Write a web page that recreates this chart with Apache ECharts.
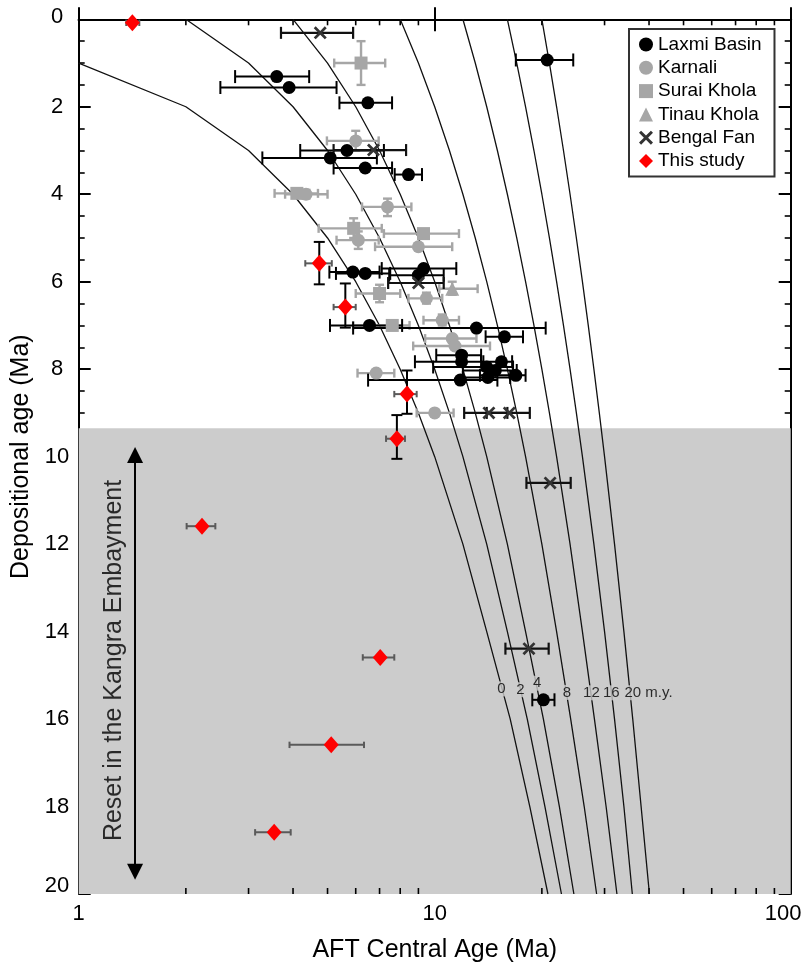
<!DOCTYPE html>
<html><head><meta charset="utf-8">
<script src="https://cdn.jsdelivr.net/npm/echarts@6/dist/echarts.min.js"></script>
<style>html,body{margin:0;padding:0;background:#fff}#c{width:806px;height:975px}</style>
</head><body><div id="c"></div>
<script>
// ---- DATA: [AFT central age, depositional age, AFT min, AFT max, dep min, dep max] ----
const laxmiBasin = [
  [20.7,0.93,16.9,24.5],[3.60,1.31,2.75,4.44],[3.90,1.56,2.50,5.30],[6.49,1.91,5.40,7.59],
  [5.67,3.00,4.19,7.20],[5.09,3.17,3.28,6.88],[6.38,3.40,5.20,7.59],[8.44,3.55,7.72,9.21],
  [5.89,5.78,5.06,7.00],[6.38,5.81,5.28,7.50],[9.31,5.70,7.10,11.5],[9.00,5.85,7.45,10.6],
  [6.56,7.00,5.08,8.10],[13.1,7.06,5.90,20.5],[15.7,7.26,13.9,17.7],[11.9,7.68,10.1,13.5],
  [11.9,7.83,8.80,13.7],[15.4,7.83,13.5,16.5],[14.0,7.95,9.90,16.6],[14.8,8.03,12.0,17.0],
  [16.9,8.14,13.4,18.0],[14.1,8.19,12.0,16.3],[11.8,8.25,6.50,15.0],[20.2,15.56,18.8,21.7]
];
const karnali = [
  [6.00,2.78,4.98,6.96,2.55,3.00],[4.35,4.00,3.80,5.00,3.90,4.10],[7.37,4.29,6.25,8.60,4.10,4.50],
  [6.10,5.05,5.30,6.96,4.85,5.25],[9.00,5.20,6.80,11.2,null,null],[9.48,6.38,8.44,10.5,6.25,6.50],
  [10.5,6.88,9.30,11.7,6.75,7.00],[11.2,7.30,9.40,13.1,null,null],[11.4,7.47,8.70,14.3,null,null],
  [6.85,8.09,6.07,7.70,null,null],[10.0,9.00,8.90,11.3,null,null]
];
const suraiKhola = [
  [6.21,1.00,5.22,7.26,0.50,1.50],[4.10,3.98,3.55,4.70,3.88,4.08],[5.92,4.78,4.72,7.10,4.55,5.00],
  [9.30,4.90,7.20,11.7,4.80,5.00],[7.00,6.27,6.00,8.00,6.07,6.47],[7.60,7.00,5.90,8.50,null,null]
];
const tinauKhola = [
  [11.2,6.16,10.3,13.2,6.00,6.30]
];
const bengalFan = [
  [4.77,0.31,3.70,5.90],[6.73,2.99,5.20,8.31],[9.00,6.03,7.40,10.6],[14.2,9.00,12.1,16.0],
  [16.2,9.00,14.0,18.5],[21.1,10.6,18.1,24.1],[18.4,14.39,15.8,20.9]
];
const thisStudy = [
  [1.415,0.08,1.36,1.48,null,null],[4.74,5.58,4.33,5.14,5.09,6.06],[5.61,6.58,5.20,6.00,6.04,7.05],
  [8.36,8.57,7.70,8.90,8.03,9.02],[7.83,9.59,7.30,8.25,9.05,10.05],[2.22,11.59,2.01,2.42,null,null],
  [7.03,14.59,6.28,7.70,null,null],[5.12,16.59,3.91,6.33,null,null],[3.54,18.59,3.13,3.94,null,null]
];
// lag-time curves: AFT age (x) read at each depositional age (y)
const curveDep = [0,1,2,3,4,5,6,7,8,9,10,12,14,16,18,20];
const lagCurves = {
  '0':  [null,1,2,3,4,5,6,7,8,9,10,12,14,16.3,18.5,20.8],
  '2':  [2,3,4,5,6,7,8,9,10,11,12,14,16,18.2,20.4,22.7],
  '4':  [4,5,6,7,8,9,10,11,12,13,14,16,18,20.2,22.4,24.6],
  '8':  [8,9,10,11,12,13,14,15,16,17,18,20,22,24.1,26.3,28.5],
  '12': [12,13,14,15,16,17,18,19,20,21,22,24,26,28.1,30.3,32.5],
  '16': [16,17,18,19,20,21,22,23,24,25,26,28,30,32,34,35.9],
  '20': [20,21,22,23,24,25,26,27,28,29,30,32,34,36,38,40.1]
};
const lagLabelText = ['0','2','4','8','12','16','20 m.y.'];
const resetZone = [9.35, 20];
const xTickMinor = [2,3,4,5,6,7,8,9,20,30,40,50,60,70,80,90];

// ---- helpers ----
const XPATH = 'path://M0,1.5L1.5,0L5,3.5L8.5,0L10,1.5L6.5,5L10,8.5L8.5,10L5,6.5L1.5,10L0,8.5L3.5,5Z';
function errSeries(name, data, o) {
  return {
    type: 'custom', name: name + ' err', silent: true, z: 3,
    data: data.map(d => [d[0], d[1], d[2], d[3], d[4] == null ? NaN : d[4], d[5] == null ? NaN : d[5]]),
    encode: {x: 0, y: 1},
    renderItem(params, api) {
      const x = api.value(0), y = api.value(1), lo = api.value(2), hi = api.value(3);
      const ylo = api.value(4), yhi = api.value(5);
      const ch = [];
      const a = api.coord([lo, y]), b = api.coord([hi, y]);
      const hs = {stroke: o.hColor, lineWidth: o.width};
      ch.push({type: 'line', shape: {x1: a[0], y1: a[1], x2: b[0], y2: b[1]}, style: hs});
      ch.push({type: 'line', shape: {x1: a[0], y1: a[1] - o.hCap, x2: a[0], y2: a[1] + o.hCap}, style: hs});
      ch.push({type: 'line', shape: {x1: b[0], y1: b[1] - o.hCap, x2: b[0], y2: b[1] + o.hCap}, style: hs});
      if (isFinite(ylo) && isFinite(yhi)) {
        const c = api.coord([x, ylo]), d = api.coord([x, yhi]);
        const vs = {stroke: o.vColor, lineWidth: o.width};
        ch.push({type: 'line', shape: {x1: c[0], y1: c[1], x2: d[0], y2: d[1]}, style: vs});
        ch.push({type: 'line', shape: {x1: c[0] - o.vCap, y1: c[1], x2: c[0] + o.vCap, y2: c[1]}, style: vs});
        ch.push({type: 'line', shape: {x1: d[0] - o.vCap, y1: d[1], x2: d[0] + o.vCap, y2: d[1]}, style: vs});
      }
      return {type: 'group', children: ch};
    }
  };
}
function pts(data) { return data.map(d => [d[0], d[1]]); }

const GRAY = '#a6a6a6';
const series = [];
series.push({
  type: 'line', name: 'zone', data: [], z: -1, silent: true,
  markArea: {silent: true, itemStyle: {color: '#cccccc'},
    data: [[{coord: [1, resetZone[0]]}, {coord: [100, resetZone[1]]}]]}
});
Object.keys(lagCurves).forEach(k => {
  const xs = lagCurves[k];
  series.push({
    type: 'line', name: 'lag' + k, silent: true, z: 2, showSymbol: false, symbol: 'none',
    data: curveDep.map((d, i) => [xs[i], d]).filter(p => p[0] != null),
    lineStyle: {color: '#111', width: 1.3}
  });
});
series.push({
  type: 'custom', name: 'xminor', silent: true, z: 1,
  data: xTickMinor.map(v => [v, 0]), encode: {x: 0, y: 1},
  renderItem(params, api) {
    const v = api.value(0);
    const b = api.coord([v, 20]), t = api.coord([v, 0]);
    const st = {stroke: '#000', lineWidth: 1.6};
    return {type: 'group', children: [
      {type: 'line', shape: {x1: b[0], y1: b[1], x2: b[0], y2: b[1] - 6}, style: st},
      {type: 'line', shape: {x1: t[0], y1: t[1], x2: t[0], y2: t[1] + 6}, style: st}
    ]};
  }
});
series.push(errSeries('Karnali', karnali, {hColor: GRAY, vColor: GRAY, width: 2.4, hCap: 4.5, vCap: 4.5}));
series.push(errSeries('Surai Khola', suraiKhola, {hColor: GRAY, vColor: GRAY, width: 2.4, hCap: 4.5, vCap: 4.5}));
series.push(errSeries('Tinau Khola', tinauKhola, {hColor: GRAY, vColor: GRAY, width: 2.4, hCap: 4.5, vCap: 4.5}));
series.push(errSeries('Laxmi Basin', laxmiBasin, {hColor: '#000', vColor: '#000', width: 2, hCap: 6.5, vCap: 6.5}));
series.push(errSeries('Bengal Fan', bengalFan, {hColor: '#111', vColor: '#111', width: 2.2, hCap: 6, vCap: 6}));
series.push(errSeries('This study', thisStudy, {hColor: '#5a5a5a', vColor: '#000', width: 2, hCap: 3.2, vCap: 5.5}));
series.push({type: 'scatter', name: 'Karnali', z: 4, data: pts(karnali), symbol: 'circle', symbolSize: 13, itemStyle: {color: GRAY, opacity: 1}});
series.push({type: 'scatter', name: 'Surai Khola', z: 4, data: pts(suraiKhola), symbol: 'rect', symbolSize: 13, itemStyle: {color: GRAY, opacity: 1}});
series.push({type: 'scatter', name: 'Tinau Khola', z: 4, data: pts(tinauKhola), symbol: 'triangle', symbolSize: 14, itemStyle: {color: GRAY, opacity: 1}});
series.push({type: 'scatter', name: 'Laxmi Basin', z: 5, data: pts(laxmiBasin), symbol: 'circle', symbolSize: 13, itemStyle: {color: '#000', opacity: 1}});
series.push({type: 'scatter', name: 'Bengal Fan', z: 5, data: pts(bengalFan), symbol: XPATH, symbolSize: 13, itemStyle: {color: '#333', opacity: 1}});
series.push({type: 'scatter', name: 'This study', z: 6, data: pts(thisStudy), symbol: 'diamond', symbolSize: [15, 17], itemStyle: {color: '#ff0000', opacity: 1}, clip: false});
series.push({
  type: 'line', name: 'arrow', data: [], z: 3, silent: true,
  markLine: {silent: true, symbol: ['triangle', 'triangle'], symbolSize: 16,
    lineStyle: {color: '#000', width: 2, type: 'solid'}, label: {show: false},
    data: [[{coord: [1.44, 9.96]}, {coord: [1.44, 19.49]}]]}
});
series.push({
  type: 'scatter', name: 'resetText', z: 5, silent: true, symbolSize: 0,
  data: [[1.257, 14.66]],
  label: {show: true, position: 'inside', rotate: 90, formatter: 'Reset in the Kangra Embayment',
    fontSize: 25, color: '#000', fontFamily: 'Liberation Sans'}
});
const lagLabelPos = [[15.39,15.31],[17.4,15.33],[19.4,15.18],[23.5,15.39],[27.55,15.40],[31.33,15.40],[39.87,15.40]];
series.push({
  type: 'scatter', name: 'lagLabels', z: 3, silent: true, symbolSize: 0,
  data: lagLabelPos.map((p, i) => ({value: p, name: lagLabelText[i]})),
  label: {show: true, position: 'inside', formatter: p => p.name, fontSize: 15, color: '#000',
    backgroundColor: '#cccccc', padding: [0, 0], fontFamily: 'Liberation Sans'}
});

const axisLineStyle = {color: '#000', width: 2};
const option = {
  animation: false,
  textStyle: {fontFamily: 'Liberation Sans, Arial, sans-serif'},
  grid: {left: 78.7, right: 15.3, top: 19.3, bottom: 81, containLabel: false},
  legend: {
    orient: 'vertical', left: 629, top: 29, selectedMode: false,
    backgroundColor: '#fff', borderColor: '#333', borderWidth: 2,
    padding: [6, 13, 6, 10], itemGap: 4.3, itemWidth: 14, itemHeight: 14,
    textStyle: {fontSize: 19, color: '#000', lineHeight: 19},
    data: [
      {name: 'Laxmi Basin', icon: 'circle'},
      {name: 'Karnali', icon: 'circle'},
      {name: 'Surai Khola', icon: 'rect'},
      {name: 'Tinau Khola', icon: 'triangle'},
      {name: 'Bengal Fan', icon: XPATH},
      {name: 'This study', icon: 'diamond'}
    ]
  },
  xAxis: [
    {type: 'log', logBase: 10, min: 1, max: 100, position: 'bottom',
     name: 'AFT Central Age (Ma)', nameLocation: 'middle', nameGap: 44,
     nameTextStyle: {fontSize: 25, color: '#000'},
     axisLine: {show: true, lineStyle: axisLineStyle},
     axisTick: {show: true, inside: true, length: 12, lineStyle: {color: '#000', width: 2}},
     axisLabel: {show: true, fontSize: 22, color: '#000', margin: 9,
       formatter: v => (v === 100 ? '{r|100}' : String(v)),
       rich: {r: {fontSize: 22, color: '#000', padding: [0, 15, 0, 0]}}},
     splitLine: {show: false}},
    {type: 'log', logBase: 10, min: 1, max: 100, position: 'top',
     axisLine: {show: true, lineStyle: axisLineStyle},
     axisTick: {show: true, inside: true, length: 12, lineStyle: {color: '#000', width: 2}},
     axisLabel: {show: false}, splitLine: {show: false}}
  ],
  yAxis: [
    {type: 'value', inverse: true, min: 0, max: 20, interval: 2, position: 'left',
     name: 'Depositional age (Ma)', nameLocation: 'middle', nameGap: 44,
     nameTextStyle: {fontSize: 25, color: '#000'},
     axisLine: {show: true, lineStyle: axisLineStyle},
     axisTick: {show: true, inside: true, length: 12, lineStyle: {color: '#000', width: 2}},
     minorTick: {show: true, splitNumber: 4, length: 6, lineStyle: {color: '#000', width: 1.6}},
     axisLabel: {show: true, fontSize: 22, color: '#000', margin: 21.7, align: 'center',
       formatter: v => (v === 20 ? '{u|20}' : v === 0 ? '{t|0}' : String(v)),
       rich: {u: {fontSize: 22, color: '#000', padding: [0, 0, 16, 0]},
              t: {fontSize: 22, color: '#000', padding: [0, 0, 5, 0]}}},
     splitLine: {show: false}},
    {type: 'value', inverse: true, min: 0, max: 20, interval: 2, position: 'right',
     axisLine: {show: true, lineStyle: axisLineStyle},
     axisTick: {show: true, inside: true, length: 12, lineStyle: {color: '#000', width: 2}},
     minorTick: {show: true, splitNumber: 4, length: 6, lineStyle: {color: '#000', width: 1.6}},
     axisLabel: {show: false}, splitLine: {show: false}}
  ],
  series: series
};
const chart = echarts.init(document.getElementById('c'));
chart.setOption(option);
</script>
</body></html>
